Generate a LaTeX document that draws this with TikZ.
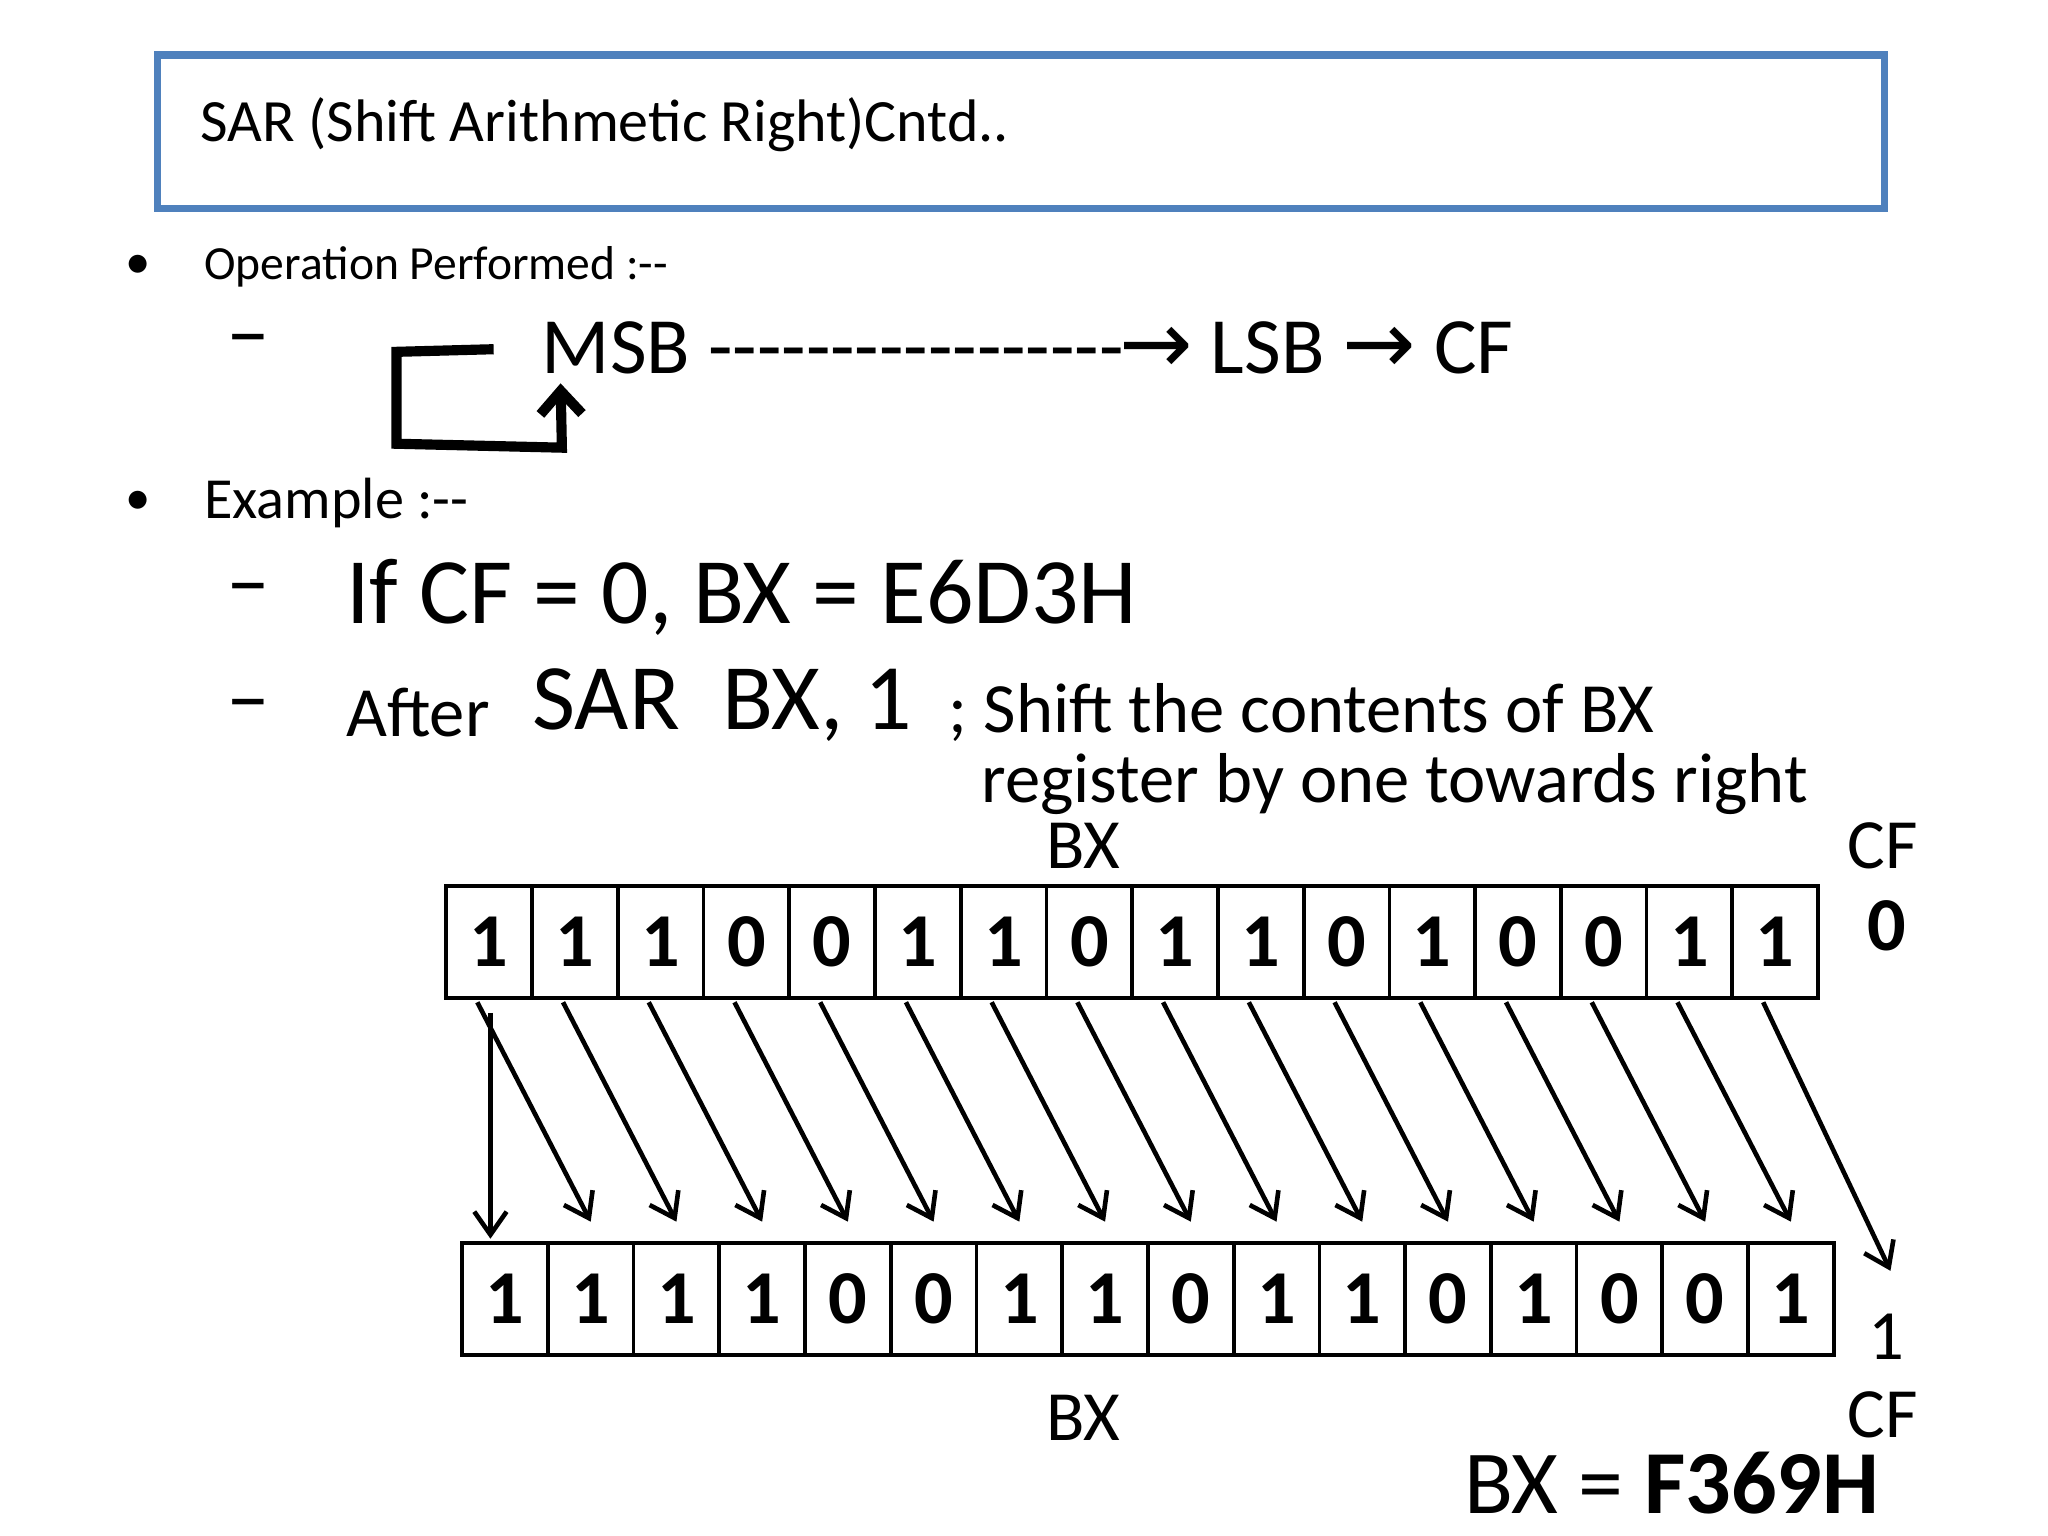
\documentclass[tikz,border=0pt]{standalone}
\usepackage{fontspec}
\setmainfont[Ligatures=TeXOff]{Carlito}
\newfontfamily\arrfont{DejaVu Sans}
\usetikzlibrary{arrows.meta,calc}
\begin{document}
\begin{tikzpicture}[x=0.01cm,y=-0.01cm,
  txt/.style={inner sep=0pt,anchor=west},
  cell/.style={draw,line width=0.8pt,minimum width=0.653cm,minimum height=0.85cm,inner sep=0pt,font=\fontsize{16.5}{20}\selectfont\bfseries},
  sh/.style={-{Straight Barb[length=5pt,width=7pt]},line width=1pt}]
\useasboundingbox (0,0) rectangle (1560,1170);
\node[draw={rgb,255:red,79;green,129;blue,189},line width=1.6pt,minimum width=13.15cm,minimum height=1.17cm,anchor=north west] (title) at (117,39) {};
\node[txt,font=\fontsize{13}{16}\selectfont] (tt) at (152,95) {SAR (Shift Arithmetic Right)Cntd..};
\node[txt,font=\fontsize{11}{14}\selectfont] (b1) at (95,203) {•};
\node[txt,font=\fontsize{10.3}{12}\selectfont] (op) at (155,203) {Operation Performed :--};
\node[txt,font=\fontsize{19}{20}\selectfont] (d1) at (172,265) {–};
\node[txt,font=\fontsize{17.3}{20}\selectfont] (msb) at (412,265) {MSB -----------------\kern-1pt{\arrfont\fontsize{19}{20}\selectfont →} LSB {\arrfont\fontsize{19}{20}\selectfont →} CF};
\coordinate (l0) at (376,266);
\coordinate (l1) at (302,268);
\coordinate (l2) at (302,338);
\coordinate (l3) at (428,341);
\coordinate (l4) at (427,292);
\draw[line width=2.2pt,-{Straight Barb[length=5pt,width=9pt]}] (l0)--(l1)--(l2)--(l3)--(l4);
\node[txt,font=\fontsize{11}{14}\selectfont] (b2) at (95,383) {•};
\node[txt,font=\fontsize{12.6}{16}\selectfont] (ex) at (155,383) {Example :--};
\node[txt,font=\fontsize{19}{20}\selectfont] (d2) at (172,455) {–};
\node[txt,font=\fontsize{20.3}{24}\selectfont] (ifcf) at (263,455) {If CF = 0, BX = E6D3H};
\node[txt,font=\fontsize{19}{20}\selectfont] (d3) at (172,543) {–};
\node[txt,font=\fontsize{15.3}{18}\selectfont] (after) at (263,543) {After};
\node[txt,font=\fontsize{20.3}{24}\selectfont] (sar) at (405,537) {SAR\ \ BX, 1};
\node[txt,font=\fontsize{15.3}{18}\selectfont] (c1) at (722,543) {; Shift the contents of BX};
\node[txt,font=\fontsize{15.3}{18}\selectfont] (c2) at (747,597) {register by one towards right};
\node[font=\fontsize{15.3}{18}\selectfont,inner sep=0pt] (bxt) at (825,644) {BX};
\node[font=\fontsize{15.3}{18}\selectfont,inner sep=0pt] (cft) at (1434,644) {CF};
\node[font=\fontsize{16.5}{20}\selectfont\bfseries,inner sep=0pt] (cf0) at (1437,705) {0};
\foreach \b [count=\i from 0] in {1,1,1,0,0,1,1,0,1,1,0,1,0,0,1,1}
  \node[cell] (t\i) at ({340+65.3*\i+32.65},717.5) {\b};
\foreach \b [count=\i from 0] in {1,1,1,1,0,0,1,1,0,1,1,0,1,0,0,1}
  \node[cell] (u\i) at ({352+65.3*\i+32.65},989.5) {\b};
\node[font=\fontsize{15.3}{18}\selectfont,inner sep=0pt] (cf1) at (1437,1018) {1};
\node[font=\fontsize{15.3}{18}\selectfont,inner sep=0pt] (bxb) at (825,1080) {BX};
\node[font=\fontsize{15.3}{18}\selectfont,inner sep=0pt] (cfb) at (1434,1078) {CF};
\node[inner sep=0pt,anchor=east,font=\fontsize{19.5}{24}\selectfont] (res) at (1432,1130) {BX = \textbf{F369H}};
\draw[sh] ($(t0.south west)+(35,10)$) -- ($(u0.north west)+(23,-2)$);
\foreach \i [evaluate=\i as \j using int(\i+1)] in {0,...,14}
  \draw[sh] ($(t\i.south west)+(25,2)$) -- ($(u\j.north)+(0,-15)$);
\coordinate (cfa) at (1440,968);
\draw[sh] ($(t15.south west)+(25,2)$) -- (cfa);
\end{tikzpicture}
\end{document}
